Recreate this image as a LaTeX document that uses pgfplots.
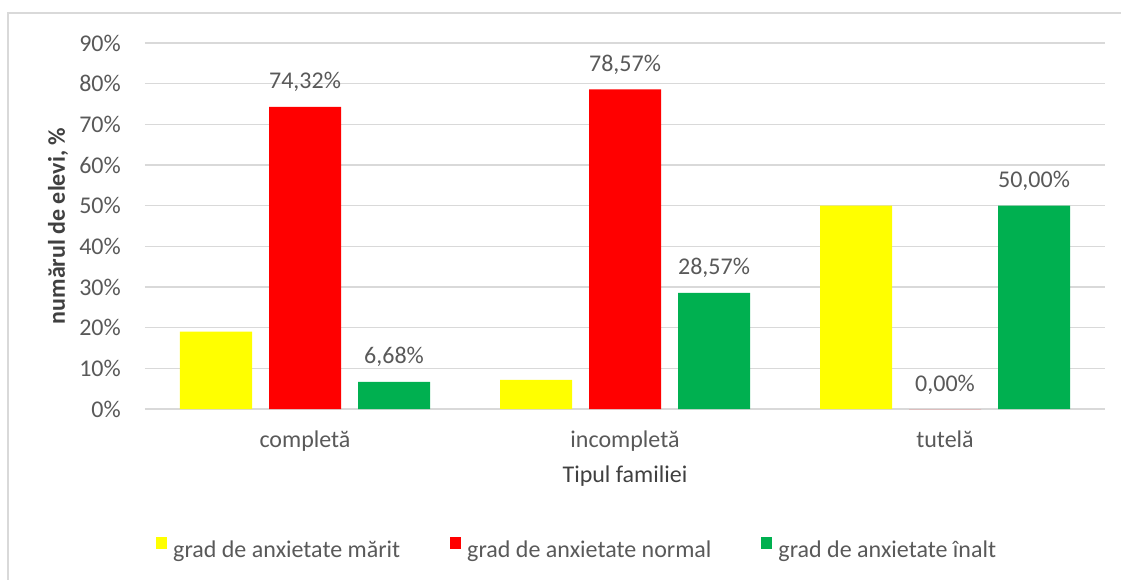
\documentclass[border=0pt]{standalone}
\usepackage{fontspec}
\setmainfont{Carlito}
\usepackage{pgfplots}
\pgfplotsset{compat=1.18}
\definecolor{gridc}{HTML}{D9D9D9}
\definecolor{txt}{HTML}{595959}
\definecolor{ttl}{HTML}{404040}
\definecolor{cyel}{HTML}{FFFF00}
\definecolor{cred}{HTML}{FF0000}
\definecolor{cgrn}{HTML}{00B050}
\begin{document}
\begin{tikzpicture}[font=\fontsize{24}{29}\selectfont]
\useasboundingbox (-145pt,-170pt) rectangle (976pt,409pt);
\draw[gridc, line width=1.2pt] (-137pt,-172pt) -- (-137pt,396pt) -- (978pt,396pt);
\begin{axis}[
  at={(0pt,0pt)}, anchor=south west,
  width=960pt, height=366pt, scale only axis,
  xmin=-0.5, xmax=2.5, ymin=0, ymax=90,
  ytick={0,10,...,90},
  xtick={0,1,2}, xticklabels={completă, incompletă, tutelă},
  ymajorgrids, grid style={gridc, line width=1.2pt},
  axis line style={draw=none},
  major tick length=0pt, tick style={draw=none},
  /pgf/number format/assume math mode=true,
  yticklabel={\pgfmathprintnumber{\tick}\%},
  ticklabel style={text=txt},
  yticklabel style={anchor=east, inner sep=0pt, xshift=-24pt},
  xticklabel style={anchor=base, inner sep=0pt, yshift=-38pt},
  ybar, bar width=72pt,
  legend columns=3,
  legend style={at={(0.01146,-0.3798)}, anchor=west, draw=none, fill=none, inner sep=0pt,
    nodes={inner sep=0pt, text=txt},
    /tikz/every odd column/.append style={column sep=6pt},
    /tikz/every even column/.append style={column sep=50pt}},
  legend image code/.code={\fill[#1,draw=none] (0pt,0pt) rectangle (11pt,12pt);},
  every node near coord/.append style={anchor=base, inner sep=0pt, yshift=18pt, text=txt},
]
\addplot[fill=cyel, draw=none, bar shift=-89pt] coordinates {(0,19.00) (1,7.14) (2,50.00)};
\addlegendentry{grad de anxietate mărit}
\addplot[fill=cred, draw=none, bar shift=0pt,
  nodes near coords={\pgfmathprintnumber[fixed,fixed zerofill,precision=2,use comma,assume math mode=true]{\pgfplotspointmeta}\%}]
  coordinates {(0,74.32) (1,78.57) (2,0.00)};
\addlegendentry{grad de anxietate normal}
\addplot[fill=cgrn, draw=none, bar shift=89pt,
  nodes near coords={\pgfmathprintnumber[fixed,fixed zerofill,precision=2,use comma,assume math mode=true]{\pgfplotspointmeta}\%}]
  coordinates {(0,6.68) (1,28.57) (2,50.00)};
\addlegendentry{grad de anxietate înalt}
\end{axis}
\node[rotate=90, text=ttl, font=\fontsize{24}{29}\selectfont\bfseries] at (-87pt,183pt) {numărul de elevi, \%};
\node[anchor=base, inner sep=0pt, text=ttl] at (480pt,-73pt) {Tipul familiei};
\end{tikzpicture}
\end{document}
